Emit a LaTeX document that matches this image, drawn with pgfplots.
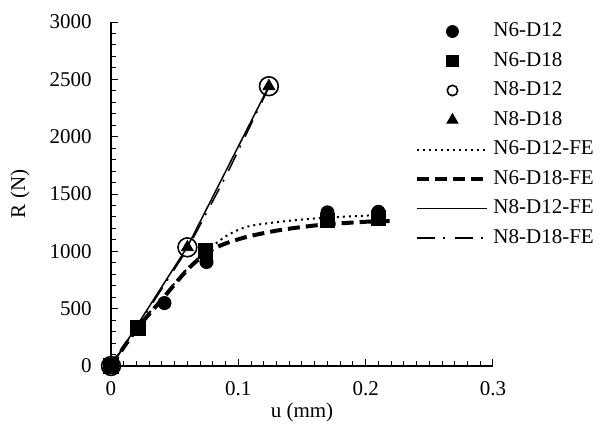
\documentclass[border=0pt]{standalone}
\usepackage{pgfplots}
\pgfplotsset{compat=1.18}
\usepackage{fontspec}
\setmainfont{Liberation Serif}
\pgfplotsset{
  markleg/.style={legend image code/.code={\draw[mark repeat=2,mark phase=2,##1,mark size=#1] plot coordinates {(0pt,0pt)(17.5pt,0pt)(35pt,0pt)};}},
  lineleg/.style={legend image code/.code={\draw[##1] (0pt,0pt) -- (35pt,0pt);}},
}
\begin{document}
\fontsize{10.5pt}{12pt}\selectfont
\begin{tikzpicture}
\begin{axis}[
  scale only axis, width=191pt, height=172pt,
  xmin=0, xmax=0.3, ymin=0, ymax=3000,
  clip=false,
  axis x line=bottom, axis y line=left,
  axis line style={-, line width=1pt},
  xtick={0,0.1,0.2,0.3}, xticklabels={0,0.1,0.2,0.3},
  ytick={0,500,1000,1500,2000,2500,3000},
  minor x tick num=9, minor y tick num=4,
  tick align=inside,
  major tick length=3.5pt, minor tick length=2.5pt,
  tick style={black, line width=0.5pt},
  /pgf/number format/assume math mode=true,
  yticklabel style={/pgf/number format/1000 sep={}, xshift=-6pt},
  xticklabel style={yshift=-4pt},
  xlabel={u (mm)}, ylabel={R (N)},
  xlabel style={at={(axis description cs:0.5,-0.1337)}, anchor=center},
  ylabel style={at={(axis description cs:-0.238,0.5)}, anchor=center},
  legend style={draw=none, fill=none, at={(rel axis cs:0.796,1.01)}, anchor=north west,
    row sep=2.2pt, inner sep=0pt, font=\fontsize{10.5pt}{12pt}\selectfont,
    nodes={inner sep=2pt}},
  legend cell align=left,
  lineleg,
]
\addplot[only marks, mark=*, mark size=3.3pt, black, markleg=3pt]
  coordinates {(0,0)(0.042,549)(0.075,907)(0.17,1340)(0.21,1345)};
\addlegendentry{N6-D12}
\addplot[only marks, mark=square*, mark size=3.6pt, black, markleg=2.8pt]
  coordinates {(0,0)(0.021,331)(0.074,1005)(0.17,1272)(0.21,1290)};
\addlegendentry{N6-D18}
\addplot[only marks, mark=o, mark size=4.7pt, black, mark options={line width=0.8pt}, markleg=2.6pt]
  coordinates {(0,0)(0.06,1035)(0.124,2440)};
\addlegendentry{N8-D12}
\addplot[only marks, mark=triangle*, mark size=3.4pt, black, markleg=3.2pt]
  coordinates {(0,0)(0.06,1035)(0.124,2440)};
\addlegendentry{N8-D18}
\addplot[black, line width=1pt, dash pattern=on 1pt off 2pt, smooth]
  coordinates {(0,0)(0.02,330)(0.04,590)(0.06,850)(0.075,1000)(0.09,1130)(0.107,1215)(0.133,1258)(0.164,1290)(0.21,1317)};
\addlegendentry{N6-D12-FE}
\addplot[black, line width=2pt, dash pattern=on 6pt off 3pt, smooth]
  coordinates {(0,0)(0.02,320)(0.04,580)(0.06,840)(0.075,985)(0.088,1060)(0.107,1127)(0.133,1186)(0.164,1230)(0.2,1258)(0.222,1265)};
\addlegendentry{N6-D18-FE}
\addplot[black, line width=0.75pt]
  coordinates {(0,0)(0.02,345)(0.06,1040)(0.124,2440)};
\addlegendentry{N8-D12-FE}
\addplot[black, line width=0.75pt, dash pattern=on 9pt off 4pt on 1pt off 5pt]
  coordinates {(0,0)(0.02,330)(0.06,1020)(0.09,1650)(0.124,2430)};
\addlegendentry{N8-D18-FE}
\coordinate (O) at (rel axis cs:0,0);
\end{axis}
\pgfresetboundingbox
\path[use as bounding box] (O) ++(-55.5pt,-34.5pt) rectangle ++(300.5pt,217.5pt);
\end{tikzpicture}
\end{document}
